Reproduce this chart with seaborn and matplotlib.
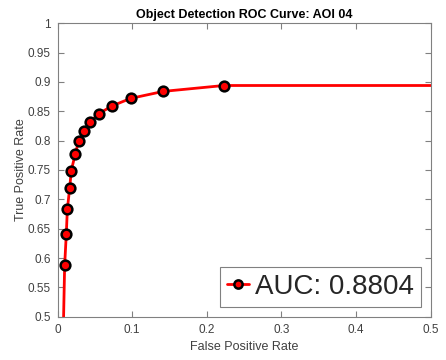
import numpy as np
import pandas as pd
import matplotlib
matplotlib.use("Agg")
import matplotlib.pyplot as plt
import seaborn as sns

# ROC points
fpr = [0.0, 0.0096, 0.0118, 0.0132, 0.0163, 0.0185, 0.0239, 0.0284, 0.0355,
       0.0436, 0.0556, 0.0727, 0.098, 0.142, 0.223, 1.0]
tpr = [0.0, 0.588, 0.641, 0.683, 0.719, 0.749, 0.778, 0.799, 0.817,
       0.832, 0.846, 0.859, 0.872, 0.884, 0.894, 0.894]
auc_label = 'AUC: 0.8804'
x_ticks = [0, 0.1, 0.2, 0.3, 0.4, 0.5]
y_ticks = [0.5, 0.55, 0.6, 0.65, 0.7, 0.75, 0.8, 0.85, 0.9, 0.95, 1]

sns.set_theme(style='white')
plt.rcParams['font.family'] = ['Liberation Sans', 'DejaVu Sans']

df = pd.DataFrame({'fpr': fpr, 'tpr': tpr})

fig = plt.figure(figsize=(4.46, 3.6), dpi=100)
ax = fig.add_axes([57.5 / 446, 1 - 316.7 / 360, (430.5 - 57.5) / 446, (316.7 - 23.3) / 360])

sns.lineplot(data=df, x='fpr', y='tpr', sort=False, ax=ax, color='red', lw=2,
             marker='o', markersize=7, markerfacecolor='red', markeredgecolor='black',
             markeredgewidth=1.8, label=auc_label)

ax.set_xlim(0, 0.5)
ax.set_ylim(0.5, 1)
ax.set_xticks(x_ticks)
ax.set_yticks(y_ticks)
ax.set_xticklabels([f'{t:g}' for t in x_ticks])
ax.set_yticklabels([f'{t:g}' for t in y_ticks])

for s in ax.spines.values():
    s.set_color('#808080')
    s.set_linewidth(0.8)
ax.tick_params(direction='in', length=4, width=0.8, color='#808080', labelsize=8.5,
               labelcolor='#404040', top=True, right=True, bottom=True, left=True, pad=5)

ax.set_xlabel('False Positive Rate', fontsize=9, color='#404040', labelpad=4)
ax.set_ylabel('True Positive Rate', fontsize=9, color='#404040', labelpad=0)
ax.set_title('Object Detection ROC Curve: AOI 04', fontsize=9, fontweight='bold',
             color='black', pad=4)

leg = ax.legend(loc='lower right', fontsize=20, handlelength=0.8, handletextpad=0.2,
                borderpad=0.25, borderaxespad=0.35, fancybox=False, framealpha=1,
                markerscale=0.85)
leg.get_frame().set_edgecolor('#808080')
leg.get_frame().set_linewidth(0.8)

fig.savefig('out.png', dpi=100)
